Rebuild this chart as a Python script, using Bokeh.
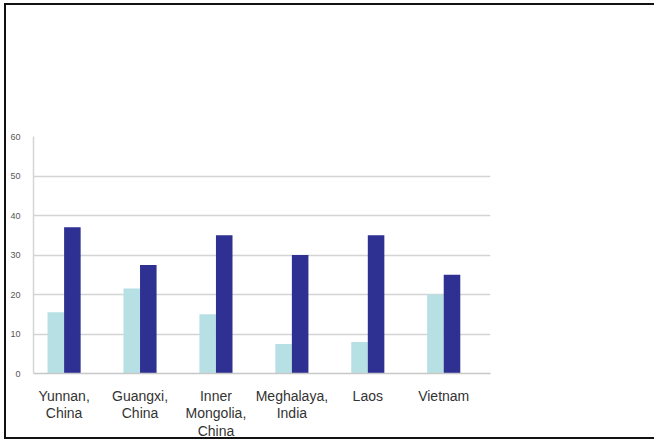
import numpy as np
from bokeh.plotting import figure
from bokeh.models import (ColumnDataSource, Range1d, FixedTicker, Label, Legend, LegendItem)
from bokeh.transform import dodge
from bokeh.embed import file_html
from bokeh.resources import INLINE

# ---- data ----
categories = ["Yunnan,\nChina", "Guangxi,\nChina", "Inner\nMongolia,\nChina",
              "Meghalaya,\nIndia", "Laos", "Vietnam"]
farmers_yields = [15.5, 21.5, 15, 7.5, 8, 20]
attainable_yields = [37, 27.5, 35, 30, 35, 25]
y_ticks = [0, 10, 20, 30, 40, 50, 60]
series_names = ["Farmers'\nYields", "Attainable\nYield\n(Experiments)\nPotential\nYield"]
title_lines = ["Yields from Farms, Experiments and", "Models"]
subtitle = "Tons/ha"

FONT = "Liberation Sans"
LIGHT = "#b6e0e3"
DARK = "#2e3192"

x_pos = list(range(len(categories)))
source = ColumnDataSource(dict(x=x_pos, farmers=farmers_yields, attain=attainable_yields))

p = figure(width=648, height=446, output_backend="svg", toolbar_location=None,
           x_range=Range1d(-0.403, 5.616), y_range=Range1d(0, 60),
           min_border_left=27, min_border_right=166, min_border_top=131, min_border_bottom=68,
           background_fill_color="white", border_fill_color="white")
p.styles = {"margin-left": "4px", "margin-top": "3px", "box-sizing": "content-box",
            "border-left": "2px solid #111", "border-top": "2px solid #111",
            "border-bottom": "2px solid #111", "border-right": "0px none",
            "height": "432px", "overflow": "hidden"}
p.outline_line_color = None

r1 = p.vbar(x=dodge("x", -0.109, range=p.x_range), top="farmers", width=0.218,
            source=source, color=LIGHT, line_color=None)
r2 = p.vbar(x=dodge("x", 0.109, range=p.x_range), top="attain", width=0.218,
            source=source, color=DARK, line_color=None)

p.xaxis.ticker = FixedTicker(ticks=x_pos)
p.xaxis.major_label_overrides = {i: c for i, c in zip(x_pos, categories)}
p.xaxis.major_label_text_font = FONT
p.xaxis.major_label_text_font_size = "14px"
p.xaxis.major_label_text_color = "#333333"
p.xaxis.major_label_text_line_height = 1.1
p.xaxis.major_label_standoff = 8
p.xaxis.major_tick_line_color = None
p.xaxis.minor_tick_line_color = None
p.xaxis.axis_line_color = "#c8c8c8"
p.xaxis.axis_line_width = 1.5

p.yaxis.ticker = FixedTicker(ticks=y_ticks)
p.yaxis.major_label_text_font = FONT
p.yaxis.major_label_text_font_size = "9px"
p.yaxis.major_label_text_color = "#555555"
p.yaxis.major_label_standoff = 7
p.yaxis.major_tick_line_color = None
p.yaxis.minor_tick_line_color = None
p.yaxis.axis_line_color = "#d4d4d4"
p.yaxis.axis_line_width = 1.5

p.xgrid.grid_line_color = None
p.ygrid.grid_line_color = "#d4d4d4"
p.ygrid.grid_line_width = 1.5

for txt, xx, yy, fs, st in [(title_lines[0], 329, 32, "33px", "normal"),
                            (title_lines[1], 329, 73, "33px", "normal"),
                            (subtitle, 327.5, 113, "15px", "bold")]:
    p.add_layout(Label(x=xx, y=yy, x_units="canvas", y_units="canvas", text=txt,
                       text_align="center", text_baseline="alphabetic", text_font=FONT,
                       text_font_size=fs, text_font_style=st, text_color="#111111",
                       level="overlay"))

legend = Legend(items=[LegendItem(label=series_names[0], renderers=[r1]),
                       LegendItem(label=series_names[1], renderers=[r2])],
                location=(494, -20), level="overlay")
legend.label_text_font = FONT
legend.label_text_font_size = "18px"
legend.label_text_color = "#111111"
legend.label_text_line_height = 1.2
legend.glyph_width = 8
legend.glyph_height = 8
legend.label_standoff = 6
legend.spacing = 9
legend.padding = 0
legend.margin = 0
legend.border_line_color = None
legend.background_fill_alpha = 0
p.add_layout(legend)

open("out.html", "w").write(file_html(p, INLINE))
